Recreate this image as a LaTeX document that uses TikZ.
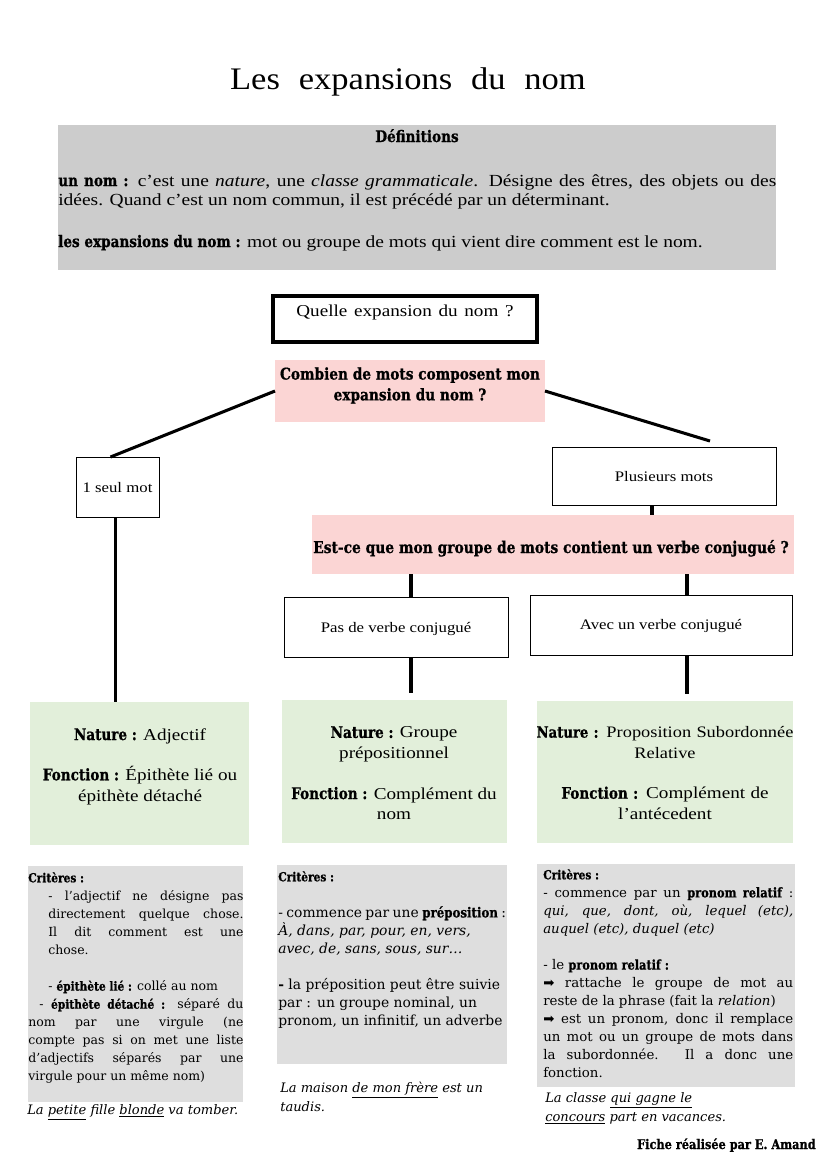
\documentclass[tikz,border=0pt]{standalone}
\usepackage{fontspec}
\setmainfont{Liberation Serif}
\newfontfamily\bodyfont[FakeStretch=1.15]{Liberation Serif}
\newfontfamily\dvserif{DejaVu Serif}
\newfontfamily\heavyfont[FakeStretch=0.85,BoldFeatures={FakeBold=0.8}]{DejaVu Serif}
\newfontfamily\symfont{DejaVu Sans}
\newfontfamily\titlefont[FakeStretch=1.1]{Liberation Serif}
\usetikzlibrary{fit,calc}
\definecolor{defgray}{HTML}{CCCCCC}
\definecolor{critgray}{HTML}{DEDEDE}
\definecolor{qpink}{HTML}{FBD5D4}
\definecolor{natgreen}{HTML}{E2EFDA}
\newcommand{\hv}[1]{{\heavyfont\bfseries #1}}

\begin{document}
\begin{tikzpicture}[x=0.72pt,y=-0.72pt,
  box/.style={inner sep=0pt,outer sep=0pt},
  whitebox/.style={box,draw=black,line width=0.7pt,fill=white},
  pinkbox/.style={box,fill=qpink},
  greenbox/.style={box,fill=natgreen},
  critbox/.style={box,fill=critgray},
  conn/.style={line width=2.2pt},
  txt/.style={inner sep=0pt,font=\bodyfont\fontsize{12}{15}\selectfont},
  small/.style={txt,anchor=base,font=\bodyfont\fontsize{10.5}{13}\selectfont},
  crit/.style={inner sep=0pt,anchor=north west,align=justify,font=\dvserif\fontsize{9}{13}\selectfont},
  example/.style={inner sep=0pt,anchor=north west,align=left,font=\dvserif\itshape\fontsize{9.4}{13.7}\selectfont}]
\path[fill=white] (0,0) rectangle (826,1169);
\useasboundingbox (0,0) rectangle (826,1169);

\node[txt,anchor=base,font=\titlefont\fontsize{22.6}{27}\selectfont] (title) at (408,89) {\spaceskip=0.6em Les expansions du nom};

\node[box,fill=defgray,fit={(58,125) (776,270)}] (def) {};
\node[txt,anchor=base,font=\fontsize{11.5}{14}\selectfont] (defhead) at (417,142) {\hv{Définitions}};
\node[txt,anchor=north west,text width=517pt,align=justify,font=\bodyfont\fontsize{12.2}{13.7}\selectfont] (deftext) at (58,174)
  {\parindent=0pt{\fontsize{11.5}{13.7}\selectfont\hv{un nom :}} c’est une \textit{nature}, une \textit{classe grammaticale}. Désigne des êtres, des objets ou des\linebreak idées. Quand c’est un nom commun, il est précédé par un déterminant.\par\vspace{16.5pt}
  {\fontsize{11.5}{13.7}\selectfont\hv{les expansions du nom :}} mot ou groupe de mots qui vient dire comment est le nom.};

\node[box,draw=black,line width=2.2pt,fit={(273,296) (537,342)}] (quelle) {};
\node[txt,anchor=base] (quelletext) at (405,316) {\spaceskip=0.4em Quelle expansion du nom ?};

\node[pinkbox,fit={(275,360) (545,422)}] (combien) {};
\node[txt,anchor=north,align=center,font=\fontsize{11.6}{15}\selectfont] (combientext) at (410,367) {\hv{Combien de mots composent mon}\\\hv{expansion du nom ?}};

\node[whitebox,fit={(76,457) (159,517)}] (seul) {};
\node[small] (seultext) at (117.5,492) {1 seul mot};

\node[whitebox,fit={(552,447) (776,505)}] (plusieurs) {};
\node[small] (plusieurstext) at (664,481) {Plusieurs mots};

\node[pinkbox,fit={(312,515) (794,574)}] (est) {};
\node[txt,anchor=base,font=\fontsize{11.7}{14}\selectfont] (esttext) at (551,553) {\hv{Est-ce que mon groupe de mots contient un verbe conjugué ?}};

\node[whitebox,fit={(284,597) (508,657)}] (pas) {};
\node[small] (pastext) at (396,632) {Pas de verbe conjugué};

\node[whitebox,fit={(530,595) (792,655)}] (avec) {};
\node[small] (avectext) at (661,629) {Avec un verbe conjugué};

\node[greenbox,fit={(30,702) (249,845)}] (g1) {};
\node[txt,anchor=north,align=center] (g1text) at (140,728)
  {{\fontsize{11.5}{15}\selectfont\hv{Nature :}} Adjectif\\[14pt]{\fontsize{11.5}{15}\selectfont\hv{Fonction :}} Épithète lié ou\\épithète détaché};
\node[greenbox,fit={(282,700) (507,843)}] (g2) {};
\node[txt,anchor=north,align=center] (g2text) at (394,726)
  {{\fontsize{11.5}{15}\selectfont\hv{Nature :}} Groupe\\prépositionnel\\[14pt]{\fontsize{11.5}{15}\selectfont\hv{Fonction :}} Complément du\\nom};
\node[greenbox,fit={(537,701) (793,843)}] (g3) {};
\node[txt,anchor=north,align=center,text width=200pt,font=\bodyfont\fontsize{11.5}{15}\selectfont] (g3text) at (665,726)
  {{\fontsize{11.2}{15}\selectfont\hv{Nature :}} Proposition Subordonnée\\Relative\\[14pt]{\fontsize{11.5}{15}\selectfont\hv{Fonction :}} \fontsize{12}{15}\selectfont Complément de\\l’antécedent};

\node[critbox,fit={(28,866) (243,1102)}] (c1) {};
\node[crit,text width=155pt] (c1text) at (28,872)
  {\parindent=0pt\hv{Critères :}\par
  {\leftskip=14.4pt - l’adjectif ne désigne pas\linebreak directement quelque chose.\linebreak Il dit comment est une\linebreak chose.\par}
  \vspace{13pt}
  {\leftskip=14.4pt - \hv{épithète lié :} collé au nom\par}
  \hspace*{8pt}- \hv{épithète détaché :} séparé du\linebreak nom par une virgule (ne\linebreak compte pas si on met une liste\linebreak d’adjectifs séparés par une\linebreak virgule pour un même nom)};

\node[critbox,fit={(277,865) (507,1064)}] (c2) {};
\node[crit,text width=164pt,font=\dvserif\fontsize{10}{13}\selectfont] (c2text) at (278,871)
  {\parindent=0pt{\fontsize{9}{13}\selectfont\hv{Critères :}}\par\vspace{13pt}
  - commence par une \hv{préposition} :\linebreak
  \textit{À, dans, par, pour, en, vers,}\\\textit{avec, de, sans, sous, sur…}\par\vspace{13pt}
  \textbf{-} la préposition peut être suivie\\par : un groupe nominal, un\\pronom, un infinitif, un adverbe};

\node[critbox,fit={(537,864) (795,1087)}] (c3) {};
\node[crit,text width=180pt,font=\dvserif\fontsize{9.6}{13}\selectfont] (c3text) at (543,869)
  {\parindent=0pt{\fontsize{9}{13}\selectfont\hv{Critères :}}\par
  - commence par un \hv{pronom relatif} :\linebreak
  \textit{qui, que, dont, où, lequel (etc),\linebreak auquel (etc), duquel (etc)}\par\vspace{13pt}
  - le \hv{pronom relatif :}\par
  {\symfont ➡} rattache le groupe de mot au\linebreak reste de la phrase (fait la \textit{relation})\par
  {\symfont ➡} est un pronom, donc il remplace\linebreak un mot ou un groupe de mots dans\linebreak la subordonnée. Il a donc une\linebreak fonction.};

\node[example] (e1) at (27,1104) {La \underline{petite} fille \underline{blonde} va tomber.};
\node[example] (e2) at (280,1082) {La maison \underline{de mon frère} est un\\taudis.};
\node[example] (e3) at (545,1092) {La classe \underline{qui gagne le}\\\underline{concours} part en vacances.};

\node[txt,anchor=base east,font=\fontsize{9.6}{11}\selectfont] (footer) at (816,1149) {\hv{Fiche réalisée par E. Amand}};

\coordinate (jp) at (652,0);
\coordinate (ja) at (411,0);
\coordinate (jb) at (687,0);
\coordinate (plend) at (710,441);
\draw[conn] (combien.west) -- ($(seul.north)+(-7,0)$);
\draw[conn] (combien.east) -- (plend);
\draw[conn] (plusieurs.south -| jp) -- (est.north -| jp);
\draw[conn] (est.south -| ja) -- (pas.north -| ja);
\draw[conn] (est.south -| jb) -- (avec.north -| jb);
\draw[conn,shorten >=5pt] (pas.south -| ja) -- (g2.north -| ja);
\draw[conn,shorten >=5pt] (avec.south -| jb) -- (g3.north -| jb);
\draw[conn] ($(seul.south)+(-2,0)$) -- ($(seul.south |- g1.north)+(-2,0)$);
\end{tikzpicture}
\end{document}
